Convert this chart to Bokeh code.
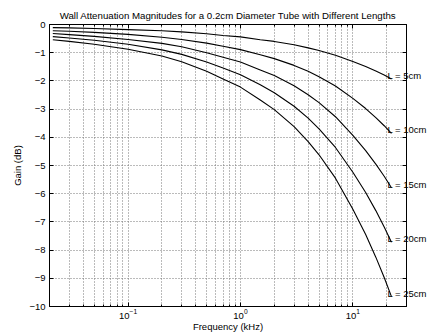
from bokeh.plotting import figure
from bokeh.models import (FixedTicker, LogAxis, LinearAxis,
                          CustomJSTickFormatter, Range1d, LogTickFormatter)
from bokeh.embed import file_html
from bokeh.resources import INLINE

# ---- data ----
freq_khz = [0.0214, 0.03, 0.05, 0.1, 0.2, 0.3, 0.5, 0.7, 1, 1.5, 2, 3, 4, 5,
            7, 10, 13, 16, 19, 22.05]
gain_5cm = [-0.11, -0.12, -0.14, -0.18, -0.22, -0.26, -0.33, -0.39, -0.44,
            -0.54, -0.60, -0.72, -0.83, -0.92, -1.09, -1.31, -1.49, -1.65,
            -1.79, -1.93]
gain_10cm = [-0.22, -0.24, -0.28, -0.35, -0.45, -0.53, -0.66, -0.77, -0.89,
             -1.07, -1.21, -1.45, -1.66, -1.85, -2.18, -2.62, -2.98, -3.30,
             -3.59, -3.86]
gain_15cm = [-0.32, -0.36, -0.42, -0.53, -0.67, -0.79, -1.00, -1.16, -1.33,
             -1.61, -1.81, -2.17, -2.49, -2.77, -3.27, -3.93, -4.47, -4.95,
             -5.38, -5.79]
gain_20cm = [-0.43, -0.48, -0.56, -0.70, -0.90, -1.06, -1.33, -1.54, -1.78,
             -2.14, -2.42, -2.90, -3.32, -3.70, -4.36, -5.24, -5.96, -6.60,
             -7.18, -7.72]
gain_25cm = [-0.54, -0.60, -0.70, -0.88, -1.12, -1.32, -1.66, -1.93, -2.22,
             -2.68, -3.02, -3.62, -4.15, -4.62, -5.45, -6.55, -7.45, -8.25,
             -8.97, -9.65]
curve_labels = ["L = 5cm", "L = 10cm", "L = 15cm", "L = 20cm", "L = 25cm"]
x_major_ticks = [0.1, 1, 10]
x_minor_ticks = [0.03, 0.04, 0.05, 0.06, 0.07, 0.08, 0.09,
                 0.2, 0.3, 0.4, 0.5, 0.6, 0.7, 0.8, 0.9,
                 2, 3, 4, 5, 6, 7, 8, 9, 20]
y_ticks = [-10, -9, -8, -7, -6, -5, -4, -3, -2, -1, 0]
title_text = "Wall Attenuation Magnitudes for a 0.2cm Diameter Tube with Different Lengths"
x_label_text = "Frequency (kHz)"
y_label_text = "Gain (dB)"

FONT = "Liberation Sans"
FS = "9.5px"
LABEL_RAISE = 0.12   # curve labels sit slightly above the curve ends (dB)

gains = [gain_5cm, gain_10cm, gain_15cm, gain_20cm, gain_25cm]

p = figure(width=430, height=334, x_axis_type="log",
           x_range=Range1d(0.02, 30), y_range=Range1d(-10, 0),
           output_backend="svg", toolbar_location=None,
           min_border_left=49, min_border_right=24,
           min_border_top=24, min_border_bottom=28)
p.background_fill_color = "white"
p.border_fill_color = "white"
p.outline_line_color = "black"
p.outline_line_width = 1

p.title.text = title_text
p.title.align = "center"
p.title.vertical_align = "middle"
p.title.text_font = FONT
p.title.text_font_size = "9.7px"
p.title.text_font_style = "normal"
p.title.text_color = "black"
p.title.standoff = 6
p.title.offset = 0

xt = FixedTicker(ticks=x_major_ticks, minor_ticks=x_minor_ticks)
yt = FixedTicker(ticks=y_ticks)
yfmt = CustomJSTickFormatter(code="return tick < 0 ? '\\u2212' + Math.abs(tick) : tick.toString();")

for ax in (p.xaxis[0], p.yaxis[0]):
    ax.axis_line_color = "black"
    ax.major_tick_line_color = "black"
    ax.minor_tick_line_color = "black"
    ax.major_tick_in = 4
    ax.major_tick_out = 0
    ax.minor_tick_in = 2
    ax.minor_tick_out = 0
    ax.major_label_text_font = FONT
    ax.major_label_text_font_size = FS
    ax.major_label_text_color = "black"
    ax.axis_label_text_font = FONT
    ax.axis_label_text_font_size = FS
    ax.axis_label_text_font_style = "normal"
    ax.axis_label_text_color = "black"

p.xaxis.ticker = xt
p.xaxis.formatter = LogTickFormatter()
p.xaxis.major_label_standoff = 2
p.xaxis.axis_label = x_label_text
p.xaxis.axis_label_standoff = -1
p.yaxis.ticker = yt
p.yaxis.formatter = yfmt
p.yaxis.major_label_standoff = 4
p.yaxis.minor_tick_line_color = None
p.yaxis.axis_label = y_label_text
p.yaxis.axis_label_standoff = 3

top_ax = LogAxis(ticker=xt, major_label_text_font_size="1px",
                 major_label_text_color=None,
                 major_label_standoff=0, major_tick_in=4, major_tick_out=0,
                 minor_tick_in=2, minor_tick_out=0, axis_line_color="black",
                 major_tick_line_color="black", minor_tick_line_color="black")
p.add_layout(top_ax, "above")

# right side: curve names as labels at the curve ends, integer ticks as marks
label_pos = [g[-1] + LABEL_RAISE for g in gains]
lab_fmt = CustomJSTickFormatter(
    args=dict(pos=label_pos, names=curve_labels),
    code="""
let best = 0, bd = Infinity;
for (let i = 0; i < pos.length; i++) {
  const d = Math.abs(pos[i] - tick);
  if (d < bd) { bd = d; best = i; }
}
return names[best];
""")
right_ax = LinearAxis(ticker=FixedTicker(ticks=label_pos, minor_ticks=y_ticks),
                      formatter=lab_fmt,
                      major_label_text_font=FONT,
                      major_label_text_font_size=FS,
                      major_label_text_color="black",
                      major_label_standoff=-19,
                      major_tick_in=0, major_tick_out=0,
                      major_tick_line_color=None,
                      minor_tick_in=4, minor_tick_out=0,
                      minor_tick_line_color="black",
                      axis_line_color="black")
p.add_layout(right_ax, "right")

p.xgrid.ticker = xt
p.ygrid.ticker = yt
for g in (p.xgrid[0], p.ygrid[0]):
    g.grid_line_color = "#777777"
    g.grid_line_dash = "1 2"
    g.grid_line_width = 1
p.xgrid.minor_grid_line_color = "#777777"
p.xgrid.minor_grid_line_dash = "1 2"
p.xgrid.minor_grid_line_width = 1

for g in gains:
    p.line(freq_khz, g, line_color="black", line_width=1.1)

open("out.html", "w").write(file_html(p, INLINE))
